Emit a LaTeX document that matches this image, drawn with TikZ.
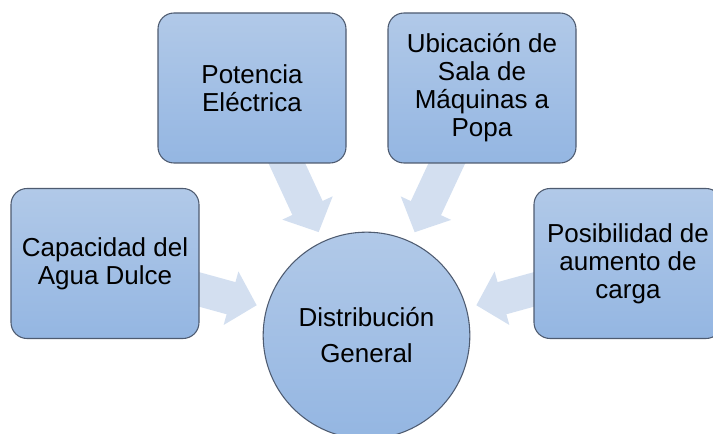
\documentclass[tikz,border=0pt]{standalone}
\usepackage{fontspec}
\setmainfont{Liberation Sans}
\usetikzlibrary{arrows.meta, backgrounds}

\definecolor{boxtop}{HTML}{B1C9E8}
\definecolor{boxbot}{HTML}{94B6E2}
\definecolor{boxline}{HTML}{4E5B70}
\definecolor{feedfill}{HTML}{D3DFF0}

\tikzset{
    factor/.style={draw=boxline, line width=0.8pt, rounded corners=12pt, top color=boxtop, bottom color=boxbot,
        minimum width=141pt, minimum height=112.5pt, align=center, inner sep=2pt, font=\fontsize{19.5}{21}\selectfont},
    hub/.style={circle, draw=boxline, line width=0.8pt, top color=boxtop, bottom color=boxbot,
        minimum size=155pt, align=center, font=\fontsize{19.5}{27}\selectfont},
    feed/.style={draw=feedfill, line width=25pt, -{Triangle[length=20pt, width=40.5pt]}, shorten >=7.5pt}
}

\begin{document}
\begin{tikzpicture}[x=0.75pt, y=-0.75pt]
        \clip (0, 0) rectangle (713, 434);
        \node[factor] (pot) at (252, 88) {Potencia\\Eléctrica};
        \node[factor] (ubi) at (482, 88) {Ubicación de\\Sala de\\Máquinas a\\Popa};
        \node[factor] (cap) at (105, 263.5) {Capacidad del\\Agua Dulce};
        \node[factor] (pos) at (628, 263.5) {Posibilidad de\\aumento de\\carga};
        \node[hub] (dist) at (366.5, 335.5) {Distribución\\General};

        \begin{scope}[on background layer]
            \draw[feed] (pot.center) -- (dist);
            \draw[feed] (ubi.center) -- (dist);
            \draw[feed] (cap.center) -- (dist);
            \draw[feed] (pos.center) -- (dist);
        \end{scope}
    \end{tikzpicture}
\end{document}
